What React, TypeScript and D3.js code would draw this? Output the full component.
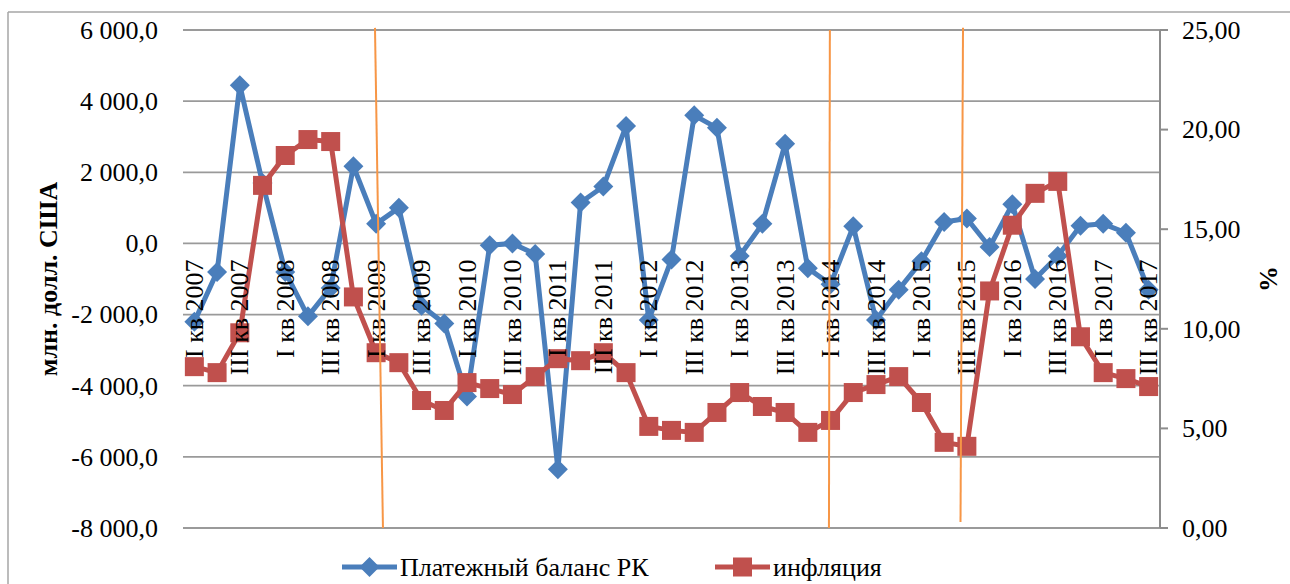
import React from "react";
import * as d3 from "d3";

const W = 1290;
const H = 584;

const roman = ["I", "II", "III", "IV"];
const years = [2007, 2008, 2009, 2010, 2011, 2012, 2013, 2014, 2015, 2016, 2017];
// quarters I 2007 .. III 2017
const quarters: string[] = years
  .flatMap(y => roman.map(r => `${r} кв ${y}`))
  .slice(0, 43);

// Платежный баланс РК, млн. долл. США
const balance = [
  -2200, -800, 4450, 1700, -800, -2050, -1250, 2170, 550, 1000,
  -1750, -2250, -4300, -50, 0, -300, -6350, 1150, 1600, 3300,
  -2150, -450, 3600, 3250, -350, 550, 2800, -700, -1150, 480,
  -2150, -1300, -500, 600, 700, -100, 1100, -1000, -350, 500,
  550, 300, -1300,
];

// инфляция, %
const inflation = [
  8.1, 7.8, 9.8, 17.2, 18.7, 19.5, 19.4, 11.6, 8.8, 8.3,
  6.4, 5.9, 7.3, 7.0, 6.7, 7.6, 8.5, 8.4, 8.8, 7.8,
  5.1, 4.9, 4.8, 5.8, 6.8, 6.1, 5.8, 4.8, 5.4, 6.8,
  7.2, 7.6, 6.3, 4.3, 4.1, 11.9, 15.2, 16.8, 17.4, 9.6,
  7.8, 7.5, 7.1,
];

const leftTicks = [-8000, -6000, -4000, -2000, 0, 2000, 4000, 6000];
const rightTicks = [0, 5, 10, 15, 20, 25];

// hand-drawn orange marks: category index (fractional) and left-axis value at each end
const orangeMarks = [
  { i0: 7.95, v0: 6060, i1: 8.3, v1: -8000 },
  { i0: 27.97, v0: 6000, i1: 27.93, v1: -8000 },
  { i0: 33.83, v0: 6060, i1: 33.72, v1: -7830 },
];

const legendItems = [
  { name: "Платежный баланс РК", color: "#4A7EBB", shape: "diamond" },
  { name: "инфляция", color: "#C0504D", shape: "square" },
];

const ru = d3.formatLocale({
  decimal: ",",
  thousands: " ",
  grouping: [3],
  currency: ["", ""],
  minus: "-",
});
const fmtLeft = ru.format(",.1f");
const fmtRight = ru.format(".2f");

const plot = { left: 183, right: 1160, top: 30, bottom: 528 };
const FONT = '"Liberation Serif", "Times New Roman", serif';
const BLUE = "#4A7EBB";
const RED = "#C0504D";

export default function App() {
  const x = d3
    .scalePoint<number>()
    .domain(d3.range(quarters.length))
    .range([plot.left, plot.right])
    .padding(0.5);
  const step = x.step();
  const xf = (i: number) => (x(0) as number) + i * step;

  const yL = d3.scaleLinear().domain([-8000, 6000]).range([plot.bottom, plot.top]);
  const yR = d3.scaleLinear().domain([0, 25]).range([plot.bottom, plot.top]);

  const lineL = d3
    .line<number>()
    .x((_, i) => x(i) as number)
    .y(d => yL(d));
  const lineR = d3
    .line<number>()
    .x((_, i) => x(i) as number)
    .y(d => yR(d));

  const diamond = (cx: number, cy: number, r: number) =>
    `M${cx},${cy - r}L${cx + r},${cy}L${cx},${cy + r}L${cx - r},${cy}Z`;

  return (
    <svg
      width={W}
      height={H}
      style={{ position: "absolute", left: 0, top: 0, background: "#fff", fontFamily: FONT }}
    >
      {/* frame */}
      <line x1={8} x2={W} y1={12} y2={12} stroke="#A6A6A6" strokeWidth={1.5} />
      <line x1={8} x2={8} y1={12} y2={H} stroke="#A6A6A6" strokeWidth={1.5} />

      {/* gridlines */}
      {leftTicks.map(t => (
        <line
          key={t}
          x1={plot.left}
          x2={plot.right}
          y1={yL(t)}
          y2={yL(t)}
          stroke="#9A9A9A"
          strokeWidth={1.8}
        />
      ))}

      {/* left tick labels */}
      {leftTicks.map(t => (
        <text key={t} x={158} y={yL(t)} dy="0.34em" textAnchor="end" fontSize={26}>
          {fmtLeft(t)}
        </text>
      ))}

      {/* right axis */}
      <line x1={plot.right} x2={plot.right} y1={plot.top} y2={plot.bottom} stroke="#8C8C8C" strokeWidth={2} />
      {rightTicks.map(t => (
        <g key={t}>
          <line x1={plot.right} x2={plot.right + 8} y1={yR(t)} y2={yR(t)} stroke="#8C8C8C" strokeWidth={2} />
          <text x={1182} y={yR(t)} dy="0.34em" fontSize={26}>
            {fmtRight(t)}
          </text>
        </g>
      ))}

      {/* axis titles */}
      <text
        transform={`translate(57,${(plot.top + plot.bottom) / 2}) rotate(-90)`}
        textAnchor="middle"
        fontSize={26}
        fontWeight="bold"
      >
        млн. долл. США
      </text>
      <text
        transform={`translate(1277,${(plot.top + plot.bottom) / 2}) rotate(-90)`}
        textAnchor="middle"
        fontSize={26}
        fontWeight="bold"
      >
        %
      </text>

      {/* balance series */}
      <path d={lineL(balance) || ""} fill="none" stroke={BLUE} strokeWidth={5} strokeLinejoin="round" />
      {balance.map((v, i) => (
        <path key={i} d={diamond(x(i) as number, yL(v), 10)} fill={BLUE} />
      ))}

      {/* inflation series */}
      <path d={lineR(inflation) || ""} fill="none" stroke={RED} strokeWidth={5} strokeLinejoin="round" />
      {inflation.map((v, i) => (
        <rect key={i} x={(x(i) as number) - 9.5} y={yR(v) - 9.5} width={19} height={19} fill={RED} />
      ))}

      {/* category labels */}
      {quarters.map((q, i) =>
        i % 2 === 0 ? (
          <text
            key={q}
            transform={`translate(${x(i)},${yL(0) + 16}) rotate(-90)`}
            textAnchor="end"
            dy="0.33em"
            fontSize={26}
          >
            {q}
          </text>
        ) : null
      )}

      {/* orange marks */}
      {orangeMarks.map((m, k) => (
        <line
          key={k}
          x1={xf(m.i0)}
          y1={yL(m.v0)}
          x2={xf(m.i1)}
          y2={yL(m.v1)}
          stroke="#F79646"
          strokeWidth={2}
        />
      ))}

      {/* legend */}
      {legendItems.map((it, k) => {
        const lx = k === 0 ? 342 : 715;
        const ly = 567;
        return (
          <g key={it.name}>
            <line x1={lx} x2={lx + 55} y1={ly} y2={ly} stroke={it.color} strokeWidth={5} />
            {it.shape === "diamond" ? (
              <path d={diamond(lx + 27.5, ly, 10)} fill={it.color} />
            ) : (
              <rect x={lx + 18} y={ly - 9.5} width={19} height={19} fill={it.color} />
            )}
            <text x={lx + 58} y={ly} dy="0.34em" fontSize={26}>
              {it.name}
            </text>
          </g>
        );
      })}
    </svg>
  );
}
